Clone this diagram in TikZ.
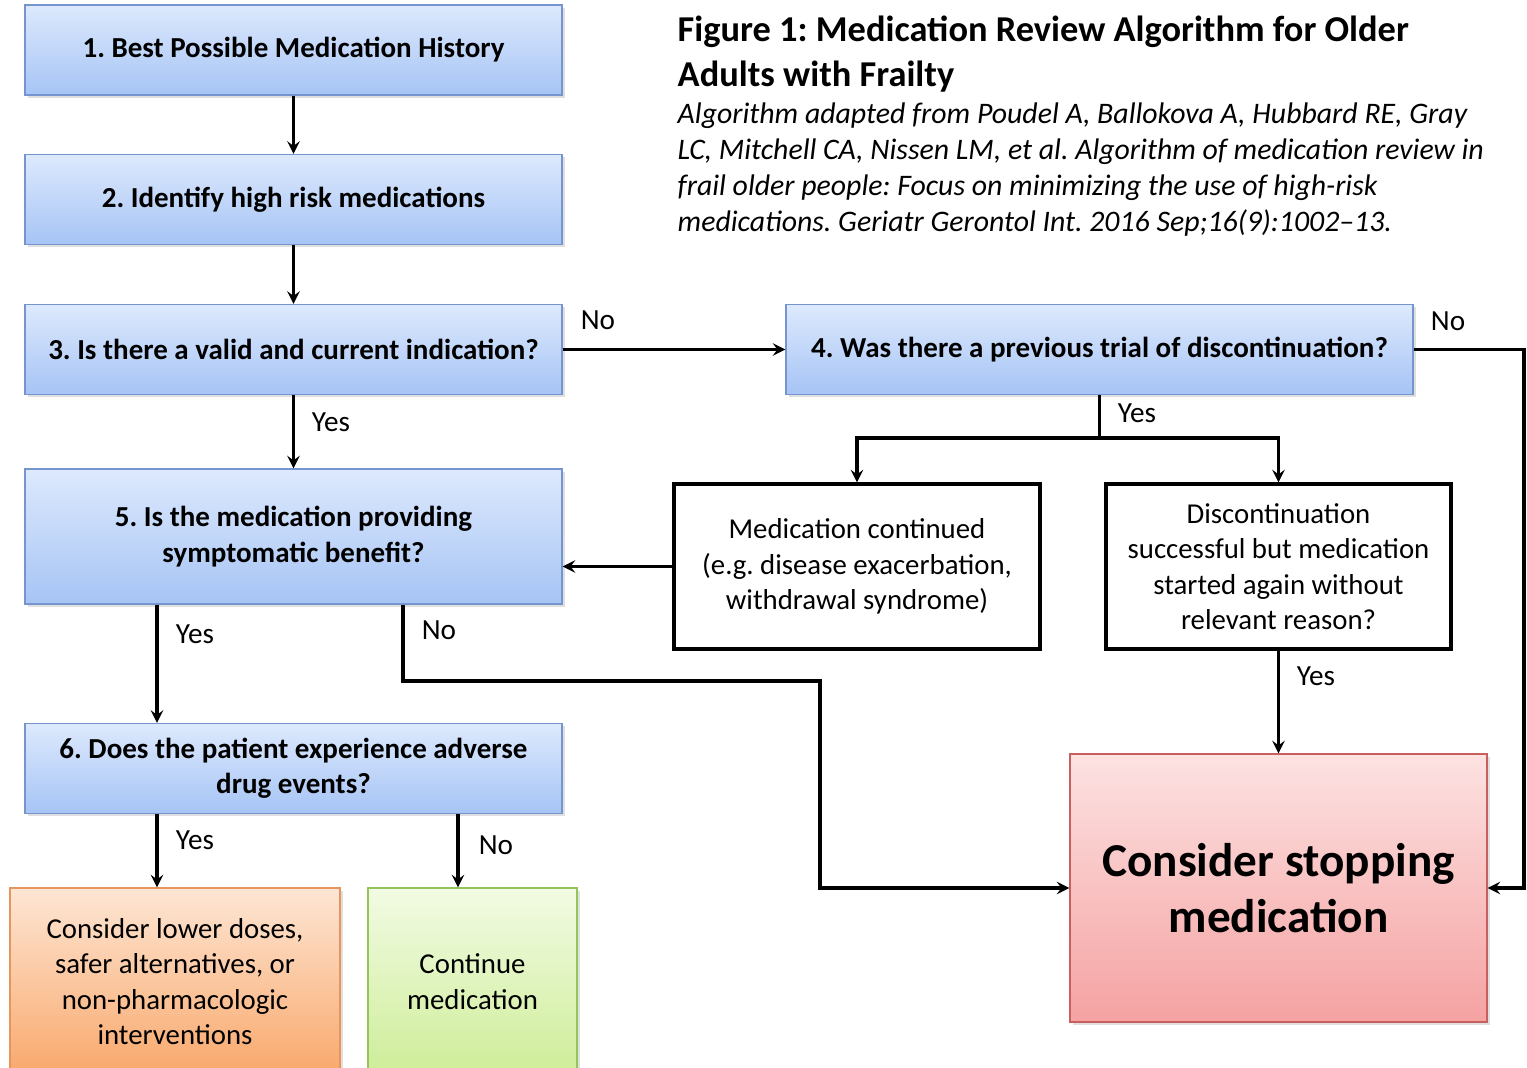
\documentclass[tikz,border=0pt]{standalone}
\usepackage{fontspec}
\setmainfont{Carlito}
\usetikzlibrary{shadows}

\definecolor{bluetop}{RGB}{221,233,253}
\definecolor{bluebot}{RGB}{166,196,245}
\definecolor{blueline}{RGB}{118,148,205}
\definecolor{orangetop}{RGB}{253,230,212}
\definecolor{orangebot}{RGB}{249,168,108}
\definecolor{orangeline}{RGB}{228,150,92}
\definecolor{greentop}{RGB}{242,251,228}
\definecolor{greenbot}{RGB}{206,237,152}
\definecolor{greenline}{RGB}{150,196,92}
\definecolor{redtop}{RGB}{253,226,226}
\definecolor{redbot}{RGB}{245,162,162}
\definecolor{redline}{RGB}{200,96,96}

\begin{document}
\frenchspacing
\begin{tikzpicture}[x=0.5pt, y=-0.5pt, line width=1.7pt, >=stealth,
  boxtext/.style={font=\fontsize{14.4}{17.7}\selectfont, align=center, inner sep=0pt},
  stepbox/.style={rectangle, draw=blueline, line width=0.7pt, top color=bluetop, bottom color=bluebot,
    font=\bfseries\fontsize{14.5}{17.6}\selectfont, align=center, inner sep=0pt,
    minimum width=268.5pt, minimum height=45pt,
    drop shadow={shadow xshift=1.5pt, shadow yshift=-1.5pt, opacity=.25}},
  notebox/.style={boxtext, rectangle, draw=black, fill=white, line width=1.7pt},
  endbox/.style={boxtext, rectangle, line width=0.7pt,
    drop shadow={shadow xshift=1.5pt, shadow yshift=-1.5pt, opacity=.25}},
  lbl/.style={font=\fontsize{14.6}{16}\selectfont, inner sep=0pt}]

  \useasboundingbox (0,0) rectangle (1527,1068);
  \fill[white] (0,0) rectangle (1527,1068);

  % Title
  \draw (676,87) node(title) [anchor=base west, align=left, inner sep=0pt,
    font=\bfseries\fontsize{18.2}{22.5}\selectfont]
    {Figure 1: Medication Review Algorithm for Older\\Adults with Frailty};
  \draw (676,232) node(cite) [anchor=base west, align=left, inner sep=0pt,
    font=\itshape\fontsize{14.9}{18.1}\selectfont]
    {Algorithm adapted from Poudel A, Ballokova A, Hubbard RE, Gray\\
     LC, Mitchell CA, Nissen LM, et al. Algorithm of medication review in\\
     frail older people: Focus on minimizing the use of high-risk\\
     medications. Geriatr Gerontol Int. 2016 Sep;16(9):1002--13.};

  % Steps
  \draw (293.5,50)  node(s1) [stepbox] {1. Best Possible Medication History};
  \draw (293.5,199.5) node(s2) [stepbox] {2. Identify high risk medications};
  \draw (293.5,349.5) node(s3) [stepbox] {3. Is there a valid and current indication?};
  \draw (1099.5,349.5) node(s4) [stepbox, minimum width=313.5pt] {4. Was there a previous trial of discontinuation?};
  \draw (293.5,536.5) node(s5) [stepbox, minimum height=67.5pt] {5. Is the medication providing\\symptomatic benefit?};
  \draw (293.5,768.5) node(s6) [stepbox] {6. Does the patient experience adverse\\drug events?};

  % Outcomes
  \draw (857,566.5)  node(cont) [notebox, minimum width=183pt, minimum height=82.5pt]
    {Medication continued\\(e.g. disease exacerbation,\\withdrawal syndrome)};
  \draw (1278.5,566.5) node(disc) [notebox, minimum width=172.5pt, minimum height=82.5pt]
    {Discontinuation\\successful but medication\\started again without\\relevant reason?};
  \draw (1278.5,888) node(stop) [endbox, draw=redline, top color=redtop, bottom color=redbot,
    minimum width=208.5pt, minimum height=134pt, font=\bfseries\fontsize{23.6}{28}\selectfont]
    {Consider stopping\\medication};
  \draw (175,981.5) node(lower) [endbox, draw=orangeline, top color=orangetop, bottom color=orangebot,
    minimum width=165pt, minimum height=93.5pt]
    {Consider lower doses,\\safer alternatives, or\\non-pharmacologic\\interventions};
  \draw (472.5,981.5) node(keep) [endbox, draw=greenline, top color=greentop, bottom color=greenbot,
    minimum width=104.5pt, minimum height=93.5pt]
    {Continue\\medication};

  % Bend points
  \coordinate (xl) at (157,0);
  \coordinate (xr) at (458,0);
  \coordinate (split) at (1099.5,438);
  \coordinate (n5a) at (403,681);
  \coordinate (n5b) at (820,681);
  \coordinate (edge) at (1524,0);

  % Edges
  \draw[->] (s1) -- (s2);
  \draw[->] (s2) -- (s3);
  \draw[->] (s3) -- (s4);
  \draw[->] (s3) -- (s5);
  \draw (s4) -- (split);
  \draw[->] (split) -| (cont);
  \draw[->] (split) -| (disc);
  \draw[->] (cont) -- (cont.west -| s5.east);
  \draw[->] (disc) -- (stop);
  \draw[->] (s4.east) -- (s4.east -| edge) |- (stop.east);
  \draw[->] (s5.south -| xl) -- (s6.north -| xl);
  \draw[->] (s5.south -| n5a) -- (n5a) -- (n5b) |- (stop.west);
  \draw[->] (s6.south -| xl) -- (lower.north -| xl);
  \draw[->] (s6.south -| xr) -- (keep.north -| xr);

  % Labels
  \draw (598,320) node(no3)  [lbl] {No};
  \draw (1448,321) node(no4) [lbl] {No};
  \draw (331,422) node(yes3) [lbl] {Yes};
  \draw (1137,413) node(yes4) [lbl] {Yes};
  \draw (1316,676) node(yesd) [lbl] {Yes};
  \draw (195,634) node(yes5) [lbl] {Yes};
  \draw (439,630) node(no5)  [lbl] {No};
  \draw (195,840) node(yes6) [lbl] {Yes};
  \draw (496,845) node(no6)  [lbl] {No};
\end{tikzpicture}
\end{document}
